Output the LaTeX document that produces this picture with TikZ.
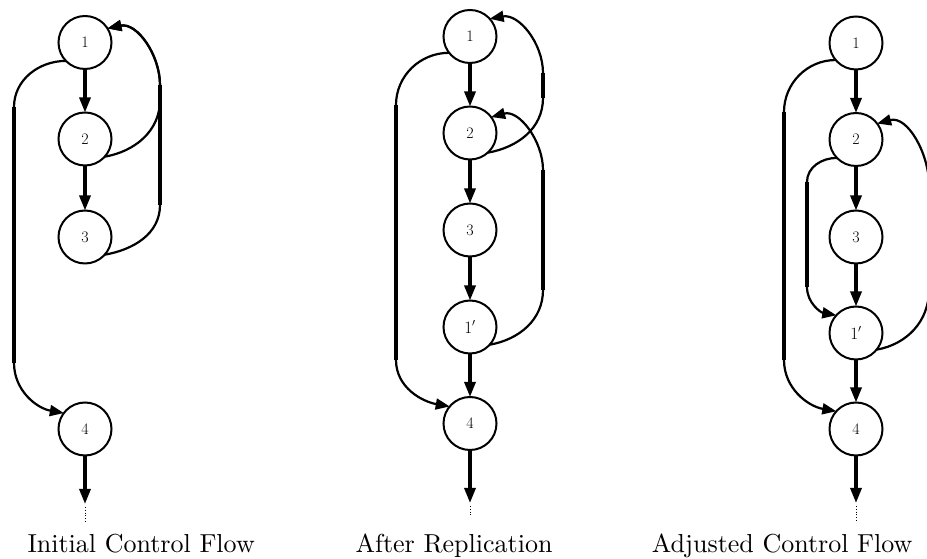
\documentclass[tikz,border=0pt]{standalone}
\usetikzlibrary{arrows.meta}
\begin{document}
\begin{tikzpicture}[x=1pt,y=1pt,
  blk/.style={circle,draw,line width=2pt,minimum size=53pt,inner sep=0pt,outer sep=0pt,
    font=\fontsize{16}{18}\selectfont},
  arr/.style={line width=3.2pt,-{Triangle[length=15pt,width=11pt]}},
  backedge/.style={line width=2.2pt,-{Triangle[length=14pt,width=11pt]}},
  vseg/.style={line width=3.4pt},
  tail/.style={line width=0.8pt,dotted},
  captxt/.style={scale=2.6,font=\fontsize{10}{12}\selectfont,inner sep=0pt}]
\useasboundingbox (0,0) rectangle (927,559);

% ---------- Initial control flow ----------
\node[blk] (a1) at (85,516.5) {1};
\node[blk] (a2) at (85,420) {2};
\node[blk] (a3) at (85,322) {3};
\node[blk] (a4) at (85,130) {4};
\coordinate (ae) at (85,55);
\coordinate (ad1) at (85,52);
\coordinate (ad2) at (85,37);
\coordinate (aL1) at (14,452); \coordinate (aL2) at (14,196);
\coordinate (aR1) at (160,354); \coordinate (aR2) at (160,459); \coordinate (aR3) at (160,474);
\draw[arr] (a1) -- (a2);
\draw[arr] (a2) -- (a3);
\draw[arr] (a4) -- (ae);
\draw[tail] (ad1) -- (ad2);
\draw[backedge] (a1.224) to[out=180,in=90] (aL1) -- (aL2) to[out=-90,in=170] (a4.143);
\draw[backedge] (a3.-42) to[out=10,in=-90] (aR1) -- (aR3) to[out=90,in=12] (a1.32);
\draw[backedge] (a2.-42) to[out=10,in=-90] (aR2) -- (aR3) to[out=90,in=12] (a1.32);
\draw[vseg] (aL1) -- (aL2);
\draw[vseg] (aR1) -- (aR3);

% ---------- After replication ----------
\node[blk] (b1) at (470,522.5) {1};
\node[blk] (b2) at (470,426) {2};
\node[blk] (b3) at (470,329) {3};
\node[blk] (b5) at (470,232) {$1'$};
\node[blk] (b4) at (470,135.5) {4};
\coordinate (be) at (470,56);
\coordinate (bd1) at (470,53);
\coordinate (bd2) at (470,42);
\coordinate (bL1) at (396,454); \coordinate (bL2) at (396,199);
\coordinate (bR1) at (543,461); \coordinate (bR2) at (543,486);
\coordinate (bS1) at (543,269); \coordinate (bS2) at (543,389);
\draw[arr] (b1) -- (b2);
\draw[arr] (b2) -- (b3);
\draw[arr] (b3) -- (b5);
\draw[arr] (b5) -- (b4);
\draw[arr] (b4) -- (be);
\draw[tail] (bd1) -- (bd2);
\draw[backedge] (b1.218) to[out=180,in=90] (bL1) -- (bL2) to[out=-90,in=170] (b4.140);
\draw[backedge] (b2.-48) to[out=10,in=-90] (bR1) -- (bR2) to[out=90,in=10] (b1.42);
\draw[backedge] (b5.-42) to[out=10,in=-90] (bS1) -- (bS2) to[out=90,in=15] (b2.37);
\draw[vseg] (bL1) -- (bL2);
\draw[vseg] (bR1) -- (bR2);
\draw[vseg] (bS1) -- (bS2);

% ---------- Adjusted control flow ----------
\node[blk] (c1) at (856,516) {1};
\node[blk] (c2) at (856,419.5) {2};
\node[blk] (c3) at (856,322) {3};
\node[blk] (c5) at (856,226) {$1'$};
\node[blk] (c4) at (856,130) {4};
\coordinate (ce) at (856,56);
\coordinate (cd1) at (856,53);
\coordinate (cd2) at (856,37);
\coordinate (cL1) at (784,447); \coordinate (cL2) at (784,199);
\coordinate (cM1) at (807,377); \coordinate (cM2) at (807,272);
\coordinate (cR1) at (929,269); \coordinate (cR2) at (929,374);
\draw[arr] (c1) -- (c2);
\draw[arr] (c2) -- (c3);
\draw[arr] (c3) -- (c5);
\draw[arr] (c5) -- (c4);
\draw[arr] (c4) -- (ce);
\draw[tail] (cd1) -- (cd2);
\draw[backedge] (c1.220) to[out=180,in=90] (cL1) -- (cL2) to[out=-90,in=170] (c4.138);
\draw[backedge] (c2.224) to[out=180,in=90] (cM1) -- (cM2) to[out=-90,in=170] (c5.138);
\draw[backedge] (c5.-39) to[out=10,in=-90] (cR1) -- (cR2) to[out=90,in=15] (c2.37);
\draw[vseg] (cL1) -- (cL2);
\draw[vseg] (cM1) -- (cM2);

% ---------- captions ----------
\node[captxt,anchor=base west] (t1) at (27,6) {Initial Control Flow};
\node[captxt,anchor=base east] (t2) at (553,6) {After Replication};
\node[captxt,anchor=base east] (t3) at (913,6) {Adjusted Control Flow};
\end{tikzpicture}
\end{document}
